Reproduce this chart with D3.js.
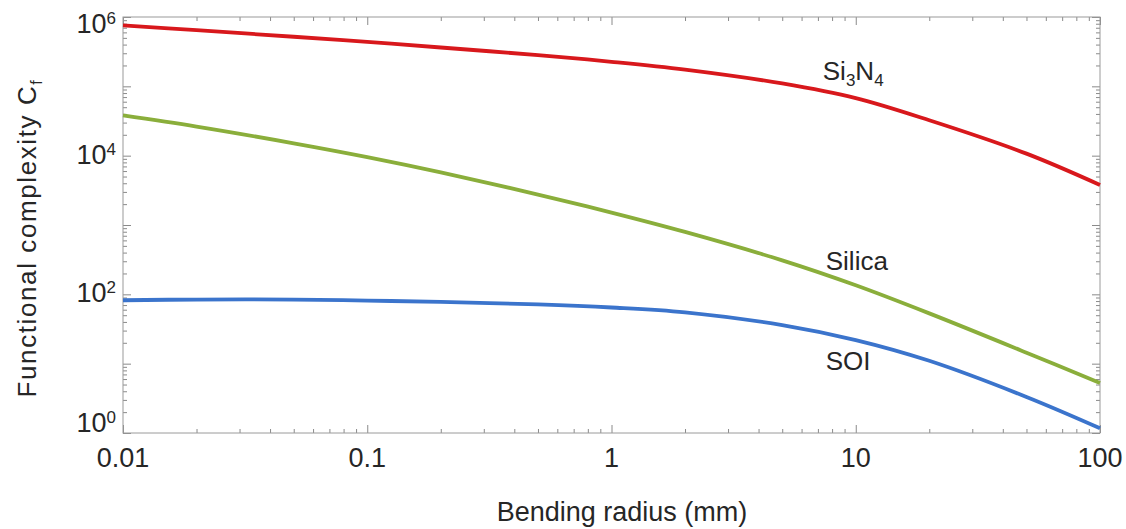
<!DOCTYPE html>
<html>
<head>
<meta charset="utf-8">
<script src="https://cdn.jsdelivr.net/npm/d3@7"></script>
<style>
  body { margin: 0; background: #fff; }
  text { font-family: "Liberation Sans", Arial, sans-serif; fill: #262626; }
  .frame { fill: none; stroke: #9a9a9a; stroke-width: 1; }
  .tick line { stroke: #8a8a8a; }
  .domain { display: none; }
</style>
</head>
<body>
<svg id="chart"></svg>
<script>
// data (bending radius in mm, functional complexity)
var radius = [0.01, 0.02, 0.05, 0.1, 0.2, 0.5, 1, 2, 5, 10, 20, 50, 100];
var si3n4  = [7.59e5, 6.46e5, 5.19e5, 4.37e5, 3.63e5, 2.82e5, 2.26e5, 1.74e5, 1.10e5, 6.76e4, 3.24e4, 1.07e4, 3.78e3];
var silica = [3.80e4, 2.63e4, 1.51e4, 9.55e3, 5.75e3, 2.75e3, 1.51e3, 794, 309, 135, 53.1, 14.4, 5.25];
var soi    = [82.2, 84.1, 84.1, 81.3, 77.6, 71.6, 64.6, 55.0, 36.0, 21.9, 11.0, 3.31, 1.17];

var seriesNames  = ["Si3N4", "Silica", "SOI"];
var seriesColors = ["#d8181c", "#8aae3b", "#3b74cc"];

var xTicks      = [0.01, 0.1, 1, 10, 100];
var xTickLabels = ["0.01", "0.1", "1", "10", "100"];
var yTicks      = [1, 1e2, 1e4, 1e6];
var yTickExp    = ["0", "2", "4", "6"];

//define size and margins
var W = 1126, H = 529;
var margin = {top: 17, right: 26, bottom: 96, left: 123},
    width = W - margin.left - margin.right,
    height = H - margin.top - margin.bottom;

var xScale = d3.scaleLog().domain([0.01, 100]).range([0, width]);
var yScale = d3.scaleLog().domain([1, 1e6]).range([height, 0]);

var svgtop = d3.select("#chart").attr("width", W).attr("height", H);
var svg = svgtop.append("g")
  .attr("transform", "translate(" + margin.left + "," + margin.top + ")");

//minor and major ticks, all pointing inward
var xAll = xScale.ticks();
var yAll = yScale.ticks();
function isMajor(v) { var l = Math.log10(v); return Math.abs(l - Math.round(l)) < 1e-9; }
var xMinor = xAll.filter(function(v) { return !isMajor(v); });
var xMajor = xAll.filter(isMajor);
var yMinor = yAll.filter(function(v) { return !isMajor(v); });
var yMajor = yAll.filter(isMajor);

function addAxis(axisFn, scale, vals, size, transform) {
  svg.append("g")
    .attr("transform", transform)
    .call(axisFn(scale).tickValues(vals).tickSize(size).tickFormat(""));
}
addAxis(d3.axisBottom, xScale, xMinor, -4, "translate(0," + height + ")");
addAxis(d3.axisBottom, xScale, xMajor, -8, "translate(0," + height + ")");
addAxis(d3.axisTop, xScale, xMinor, -4, "translate(0,0)");
addAxis(d3.axisTop, xScale, xMajor, -8, "translate(0,0)");
addAxis(d3.axisLeft, yScale, yMinor, -4, "translate(0,0)");
addAxis(d3.axisLeft, yScale, yMajor, -8, "translate(0,0)");
addAxis(d3.axisRight, yScale, yMinor, -4, "translate(" + width + ",0)");
addAxis(d3.axisRight, yScale, yMajor, -8, "translate(" + width + ",0)");

svg.append("rect")
  .attr("class", "frame")
  .attr("width", width)
  .attr("height", height);

//curves
var line = d3.line()
  .x(function(d) { return xScale(d[0]); })
  .y(function(d) { return yScale(d[1]); })
  .curve(d3.curveCatmullRom.alpha(0.5));

[si3n4, silica, soi].forEach(function(vals, i) {
  svg.append("path")
    .datum(radius.map(function(r, j) { return [r, vals[j]]; }))
    .attr("fill", "none")
    .attr("stroke", seriesColors[i])
    .attr("stroke-width", 3.8)
    .attr("stroke-linejoin", "round")
    .attr("d", line);
});

//x tick labels
svg.selectAll(".xlab")
  .data(xTicks)
  .enter().append("text")
  .attr("class", "xlab")
  .attr("x", function(d) { return xScale(d); })
  .attr("y", height + 34)
  .attr("text-anchor", "middle")
  .style("font-size", "27px")
  .text(function(d, i) { return xTickLabels[i]; });

//y tick labels as 10^n, end labels nudged inward
var yShift = [-1, 8, 8, 16];
yTicks.forEach(function(v, i) {
  var t = svg.append("text")
    .attr("x", -7)
    .attr("y", yScale(v) + yShift[i])
    .attr("text-anchor", "end")
    .style("font-size", "27px");
  t.append("tspan").text("10");
  t.append("tspan").attr("dy", -9).style("font-size", "17px").text(yTickExp[i]);
});

//axis titles
svgtop.append("text")
  .attr("x", 622)
  .attr("y", 521)
  .attr("text-anchor", "middle")
  .style("font-size", "27px")
  .text("Bending radius (mm)");

var yt = svgtop.append("text")
  .attr("transform", "translate(36,238) rotate(-90)")
  .attr("text-anchor", "middle")
  .style("font-size", "26px")
  .style("letter-spacing", "1.6px");
yt.append("tspan").text("Functional complexity C");
yt.append("tspan").attr("dy", 6).style("font-size", "16px").text("f");

//curve labels
var l1 = svg.append("text")
  .attr("x", xScale(10) - 33)
  .attr("y", 63)
  .style("font-size", "26px");
l1.append("tspan").text("Si");
l1.append("tspan").attr("dy", 6).style("font-size", "17px").text("3");
l1.append("tspan").attr("dy", -6).text("N");
l1.append("tspan").attr("dy", 6).style("font-size", "17px").text("4");

svg.append("text")
  .attr("x", xScale(10) - 30)
  .attr("y", 253)
  .style("font-size", "26px")
  .text(seriesNames[1]);

svg.append("text")
  .attr("x", xScale(10) - 30)
  .attr("y", 353)
  .style("font-size", "26px")
  .text(seriesNames[2]);
</script>
</body>
</html>
